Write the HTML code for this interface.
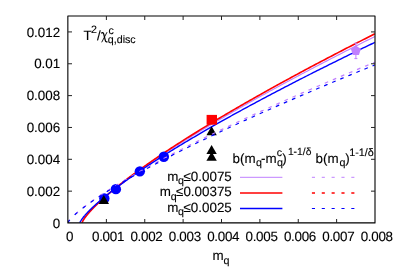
<!DOCTYPE html>
<html><head><meta charset="utf-8"><style>
html,body{margin:0;padding:0;background:#fff;}
svg{display:block;}
text{text-rendering:geometricPrecision;}
text{font-family:"Liberation Sans",sans-serif;font-size:13.4px;fill:#000;stroke:#000;stroke-width:0.12px;}
.s{font-size:10.7px;}
</style></head><body>
<svg width="399" height="279" viewBox="0 0 399 279">
<rect width="399" height="279" fill="#fff"/>
<g style="will-change:opacity;mix-blend-mode:multiply">
<defs><clipPath id="cp"><rect x="67.90" y="16.30" width="307.00" height="206.40"/></clipPath></defs>
<g clip-path="url(#cp)">
<path d="M82.10 222.70 L82.10 222.68 L82.11 222.63 L82.13 222.56 L82.15 222.48 L82.18 222.39 L82.22 222.29 L82.26 222.18 L82.31 222.06 L82.36 221.92 L82.42 221.79 L82.49 221.64 L82.57 221.48 L82.65 221.32 L82.74 221.15 L82.83 220.98 L82.93 220.79 L83.04 220.61 L83.15 220.41 L83.27 220.21 L83.40 220.00 L83.53 219.79 L83.67 219.57 L83.82 219.34 L83.97 219.11 L84.13 218.87 L84.30 218.63 L84.47 218.38 L84.65 218.13 L84.83 217.87 L85.03 217.61 L85.23 217.34 L85.43 217.07 L85.64 216.79 L85.86 216.51 L86.08 216.22 L86.32 215.93 L86.55 215.63 L86.80 215.33 L87.05 215.03 L87.30 214.72 L87.57 214.41 L87.84 214.09 L88.11 213.76 L88.40 213.44 L88.69 213.11 L88.98 212.77 L89.29 212.43 L89.59 212.09 L89.91 211.74 L90.23 211.39 L90.56 211.03 L90.90 210.67 L91.24 210.31 L91.59 209.94 L91.94 209.57 L92.30 209.20 L92.67 208.82 L93.04 208.43 L93.42 208.05 L93.81 207.66 L94.20 207.26 L94.60 206.87 L95.01 206.47 L95.42 206.06 L95.84 205.65 L96.27 205.24 L96.70 204.83 L97.14 204.41 L97.59 203.98 L98.04 203.56 L98.50 203.13 L98.96 202.70 L99.44 202.26 L99.91 201.82 L100.40 201.38 L100.89 200.93 L101.39 200.48 L101.89 200.03 L102.40 199.58 L102.92 199.12 L103.44 198.65 L103.97 198.19 L104.51 197.72 L105.05 197.25 L105.60 196.77 L106.16 196.29 L106.72 195.81 L107.29 195.33 L107.87 194.84 L108.45 194.35 L109.04 193.85 L109.64 193.36 L110.24 192.86 L110.85 192.35 L111.46 191.85 L112.08 191.34 L112.71 190.83 L113.34 190.31 L113.98 189.79 L114.63 189.27 L115.29 188.75 L115.95 188.22 L116.61 187.69 L117.29 187.16 L117.97 186.62 L118.65 186.08 L119.35 185.54 L120.05 185.00 L120.75 184.45 L121.46 183.90 L122.18 183.35 L122.91 182.79 L123.64 182.24 L124.38 181.67 L125.12 181.11 L125.88 180.54 L126.63 179.97 L127.40 179.40 L128.17 178.83 L128.95 178.25 L129.73 177.67 L130.52 177.09 L131.32 176.50 L132.12 175.91 L132.93 175.32 L133.75 174.73 L134.57 174.13 L135.40 173.53 L136.24 172.93 L137.08 172.32 L137.93 171.72 L138.79 171.11 L139.65 170.50 L140.52 169.88 L141.39 169.26 L142.27 168.64 L143.16 168.02 L144.06 167.39 L144.96 166.77 L145.86 166.14 L146.78 165.50 L147.70 164.87 L148.63 164.23 L149.56 163.59 L150.50 162.95 L151.45 162.30 L152.40 161.65 L153.36 161.00 L154.33 160.35 L155.30 159.70 L156.28 159.04 L157.26 158.38 L158.26 157.71 L159.26 157.05 L160.26 156.38 L161.27 155.71 L162.29 155.04 L163.32 154.36 L164.35 153.69 L165.38 153.01 L166.43 152.33 L167.48 151.64 L168.54 150.95 L169.60 150.26 L170.67 149.57 L171.75 148.88 L172.83 148.18 L173.92 147.48 L175.02 146.78 L176.12 146.08 L177.23 145.37 L178.35 144.67 L179.47 143.96 L180.60 143.24 L181.73 142.53 L182.87 141.81 L184.02 141.09 L185.18 140.37 L186.34 139.65 L187.51 138.92 L188.68 138.19 L189.86 137.46 L191.05 136.73 L192.24 135.99 L193.44 135.25 L194.65 134.51 L195.87 133.77 L197.09 133.03 L198.31 132.28 L199.54 131.53 L200.78 130.78 L202.03 130.03 L203.28 129.27 L204.54 128.51 L205.81 127.75 L207.08 126.99 L208.36 126.22 L209.64 125.46 L210.93 124.69 L212.23 123.92 L213.54 123.15 L214.85 122.37 L216.17 121.59 L217.49 120.81 L218.82 120.03 L220.16 119.25 L221.50 118.46 L222.85 117.67 L224.21 116.88 L225.57 116.09 L226.94 115.30 L228.32 114.50 L229.70 113.70 L231.09 112.90 L232.48 112.10 L233.89 111.29 L235.30 110.48 L236.71 109.67 L238.13 108.86 L239.56 108.05 L241.00 107.23 L242.44 106.41 L243.88 105.59 L245.34 104.77 L246.80 103.95 L248.27 103.12 L249.74 102.29 L251.22 101.46 L252.71 100.63 L254.20 99.80 L255.70 98.96 L257.21 98.12 L258.72 97.28 L260.24 96.44 L261.76 95.60 L263.30 94.75 L264.84 93.90 L266.38 93.05 L267.93 92.20 L269.49 91.34 L271.06 90.49 L272.63 89.63 L274.21 88.77 L275.79 87.91 L277.38 87.04 L278.98 86.17 L280.58 85.31 L282.19 84.43 L283.81 83.56 L285.43 82.69 L287.06 81.81 L288.70 80.93 L290.34 80.05 L291.99 79.17 L293.65 78.29 L295.31 77.40 L296.98 76.51 L298.65 75.62 L300.34 74.73 L302.03 73.84 L303.72 72.94 L305.42 72.04 L307.13 71.14 L308.84 70.24 L310.57 69.34 L312.29 68.43 L314.03 67.52 L315.77 66.61 L317.51 65.70 L319.27 64.79 L321.03 63.87 L322.79 62.96 L324.57 62.04 L326.35 61.12 L328.13 60.19 L329.93 59.27 L331.72 58.34 L333.53 57.41 L335.34 56.48 L337.16 55.55 L338.99 54.62 L340.82 53.68 L342.66 52.74 L344.50 51.80 L346.35 50.86 L348.21 49.92 L350.07 48.97 L351.94 48.03 L353.82 47.08 L355.71 46.13 L357.60 45.17 L359.49 44.22 L361.40 43.26 L363.31 42.30 L365.22 41.34 L367.14 40.38 L369.07 39.42 L371.01 38.45 L372.95 37.49 L374.90 36.52" fill="none" stroke="#c080ff" stroke-width="1.15"/>
<path d="M82.10 222.70 L82.10 222.67 L82.11 222.63 L82.13 222.56 L82.15 222.48 L82.18 222.39 L82.22 222.28 L82.26 222.17 L82.31 222.05 L82.36 221.91 L82.42 221.77 L82.49 221.62 L82.57 221.47 L82.65 221.30 L82.74 221.13 L82.83 220.95 L82.93 220.77 L83.04 220.57 L83.15 220.38 L83.27 220.17 L83.40 219.96 L83.53 219.74 L83.67 219.52 L83.82 219.29 L83.97 219.06 L84.13 218.82 L84.30 218.57 L84.47 218.32 L84.65 218.06 L84.83 217.80 L85.03 217.53 L85.23 217.26 L85.43 216.99 L85.64 216.70 L85.86 216.42 L86.08 216.13 L86.32 215.83 L86.55 215.53 L86.80 215.23 L87.05 214.92 L87.30 214.60 L87.57 214.28 L87.84 213.96 L88.11 213.63 L88.40 213.30 L88.69 212.96 L88.98 212.62 L89.29 212.28 L89.59 211.93 L89.91 211.58 L90.23 211.22 L90.56 210.86 L90.90 210.50 L91.24 210.13 L91.59 209.75 L91.94 209.38 L92.30 209.00 L92.67 208.61 L93.04 208.22 L93.42 207.83 L93.81 207.44 L94.20 207.04 L94.60 206.63 L95.01 206.23 L95.42 205.82 L95.84 205.40 L96.27 204.98 L96.70 204.56 L97.14 204.14 L97.59 203.71 L98.04 203.28 L98.50 202.84 L98.96 202.40 L99.44 201.96 L99.91 201.51 L100.40 201.07 L100.89 200.61 L101.39 200.16 L101.89 199.70 L102.40 199.23 L102.92 198.77 L103.44 198.30 L103.97 197.83 L104.51 197.35 L105.05 196.87 L105.60 196.39 L106.16 195.90 L106.72 195.42 L107.29 194.92 L107.87 194.43 L108.45 193.93 L109.04 193.43 L109.64 192.93 L110.24 192.42 L110.85 191.91 L111.46 191.39 L112.08 190.88 L112.71 190.36 L113.34 189.83 L113.98 189.31 L114.63 188.78 L115.29 188.25 L115.95 187.71 L116.61 187.18 L117.29 186.64 L117.97 186.09 L118.65 185.55 L119.35 185.00 L120.05 184.44 L120.75 183.89 L121.46 183.33 L122.18 182.77 L122.91 182.21 L123.64 181.64 L124.38 181.07 L125.12 180.50 L125.88 179.92 L126.63 179.34 L127.40 178.76 L128.17 178.18 L128.95 177.59 L129.73 177.01 L130.52 176.41 L131.32 175.82 L132.12 175.22 L132.93 174.62 L133.75 174.02 L134.57 173.41 L135.40 172.81 L136.24 172.20 L137.08 171.58 L137.93 170.97 L138.79 170.35 L139.65 169.73 L140.52 169.10 L141.39 168.48 L142.27 167.85 L143.16 167.22 L144.06 166.58 L144.96 165.94 L145.86 165.30 L146.78 164.66 L147.70 164.02 L148.63 163.37 L149.56 162.72 L150.50 162.07 L151.45 161.41 L152.40 160.76 L153.36 160.10 L154.33 159.43 L155.30 158.77 L156.28 158.10 L157.26 157.43 L158.26 156.76 L159.26 156.08 L160.26 155.41 L161.27 154.73 L162.29 154.04 L163.32 153.36 L164.35 152.67 L165.38 151.98 L166.43 151.29 L167.48 150.59 L168.54 149.90 L169.60 149.20 L170.67 148.50 L171.75 147.79 L172.83 147.09 L173.92 146.38 L175.02 145.67 L176.12 144.95 L177.23 144.24 L178.35 143.52 L179.47 142.80 L180.60 142.07 L181.73 141.35 L182.87 140.62 L184.02 139.89 L185.18 139.16 L186.34 138.42 L187.51 137.69 L188.68 136.95 L189.86 136.20 L191.05 135.46 L192.24 134.71 L193.44 133.97 L194.65 133.21 L195.87 132.46 L197.09 131.71 L198.31 130.95 L199.54 130.19 L200.78 129.43 L202.03 128.66 L203.28 127.89 L204.54 127.13 L205.81 126.35 L207.08 125.58 L208.36 124.80 L209.64 124.03 L210.93 123.25 L212.23 122.46 L213.54 121.68 L214.85 120.89 L216.17 120.10 L217.49 119.31 L218.82 118.52 L220.16 117.72 L221.50 116.93 L222.85 116.13 L224.21 115.32 L225.57 114.52 L226.94 113.71 L228.32 112.91 L229.70 112.10 L231.09 111.28 L232.48 110.47 L233.89 109.65 L235.30 108.83 L236.71 108.01 L238.13 107.19 L239.56 106.36 L241.00 105.53 L242.44 104.70 L243.88 103.87 L245.34 103.04 L246.80 102.20 L248.27 101.36 L249.74 100.52 L251.22 99.68 L252.71 98.84 L254.20 97.99 L255.70 97.14 L257.21 96.29 L258.72 95.44 L260.24 94.58 L261.76 93.73 L263.30 92.87 L264.84 92.01 L266.38 91.14 L267.93 90.28 L269.49 89.41 L271.06 88.54 L272.63 87.67 L274.21 86.80 L275.79 85.92 L277.38 85.04 L278.98 84.16 L280.58 83.28 L282.19 82.40 L283.81 81.51 L285.43 80.63 L287.06 79.74 L288.70 78.85 L290.34 77.95 L291.99 77.06 L293.65 76.16 L295.31 75.26 L296.98 74.36 L298.65 73.46 L300.34 72.55 L302.03 71.64 L303.72 70.73 L305.42 69.82 L307.13 68.91 L308.84 68.00 L310.57 67.08 L312.29 66.16 L314.03 65.24 L315.77 64.32 L317.51 63.39 L319.27 62.46 L321.03 61.54 L322.79 60.60 L324.57 59.67 L326.35 58.74 L328.13 57.80 L329.93 56.86 L331.72 55.92 L333.53 54.98 L335.34 54.04 L337.16 53.09 L338.99 52.14 L340.82 51.19 L342.66 50.24 L344.50 49.29 L346.35 48.33 L348.21 47.38 L350.07 46.42 L351.94 45.46 L353.82 44.49 L355.71 43.53 L357.60 42.56 L359.49 41.59 L361.40 40.62 L363.31 39.65 L365.22 38.67 L367.14 37.70 L369.07 36.72 L371.01 35.74 L372.95 34.76 L374.90 33.78" fill="none" stroke="#ff0000" stroke-width="1.6"/>
<path d="M79.93 222.70 L79.93 222.68 L79.94 222.63 L79.96 222.57 L79.98 222.49 L80.01 222.41 L80.05 222.31 L80.09 222.20 L80.14 222.09 L80.20 221.96 L80.26 221.83 L80.33 221.69 L80.40 221.54 L80.48 221.39 L80.57 221.23 L80.67 221.06 L80.77 220.88 L80.88 220.70 L80.99 220.51 L81.11 220.32 L81.24 220.12 L81.38 219.92 L81.52 219.70 L81.66 219.49 L81.82 219.27 L81.98 219.04 L82.15 218.81 L82.32 218.57 L82.50 218.33 L82.69 218.08 L82.88 217.83 L83.08 217.57 L83.29 217.31 L83.50 217.04 L83.72 216.77 L83.95 216.50 L84.18 216.22 L84.42 215.93 L84.66 215.64 L84.92 215.35 L85.17 215.05 L85.44 214.75 L85.71 214.44 L85.99 214.13 L86.28 213.82 L86.57 213.50 L86.87 213.18 L87.17 212.85 L87.48 212.52 L87.80 212.18 L88.12 211.85 L88.46 211.50 L88.79 211.16 L89.14 210.81 L89.49 210.45 L89.84 210.09 L90.21 209.73 L90.58 209.37 L90.96 209.00 L91.34 208.63 L91.73 208.25 L92.13 207.87 L92.53 207.49 L92.94 207.10 L93.35 206.71 L93.78 206.32 L94.21 205.92 L94.64 205.52 L95.09 205.12 L95.53 204.71 L95.99 204.30 L96.45 203.89 L96.92 203.47 L97.40 203.05 L97.88 202.62 L98.37 202.20 L98.86 201.77 L99.36 201.33 L99.87 200.90 L100.39 200.46 L100.91 200.01 L101.43 199.57 L101.97 199.12 L102.51 198.67 L103.06 198.21 L103.61 197.75 L104.17 197.29 L104.74 196.82 L105.31 196.36 L105.89 195.88 L106.48 195.41 L107.07 194.93 L107.67 194.45 L108.28 193.97 L108.89 193.48 L109.51 193.00 L110.14 192.50 L110.77 192.01 L111.41 191.51 L112.05 191.01 L112.70 190.51 L113.36 190.00 L114.03 189.49 L114.70 188.98 L115.38 188.46 L116.06 187.95 L116.76 187.43 L117.45 186.90 L118.16 186.38 L118.87 185.85 L119.59 185.32 L120.31 184.78 L121.04 184.24 L121.78 183.71 L122.52 183.16 L123.27 182.62 L124.03 182.07 L124.80 181.52 L125.57 180.97 L126.34 180.41 L127.13 179.85 L127.92 179.29 L128.71 178.72 L129.51 178.16 L130.32 177.59 L131.14 177.02 L131.96 176.44 L132.79 175.87 L133.63 175.29 L134.47 174.70 L135.32 174.12 L136.17 173.53 L137.04 172.94 L137.91 172.35 L138.78 171.75 L139.66 171.16 L140.55 170.56 L141.44 169.95 L142.35 169.35 L143.25 168.74 L144.17 168.13 L145.09 167.52 L146.02 166.90 L146.95 166.29 L147.89 165.67 L148.84 165.04 L149.79 164.42 L150.75 163.79 L151.72 163.16 L152.69 162.53 L153.67 161.89 L154.66 161.26 L155.65 160.62 L156.65 159.98 L157.66 159.33 L158.67 158.69 L159.69 158.04 L160.72 157.39 L161.75 156.73 L162.79 156.08 L163.83 155.42 L164.89 154.76 L165.94 154.09 L167.01 153.43 L168.08 152.76 L169.16 152.09 L170.24 151.42 L171.34 150.74 L172.43 150.07 L173.54 149.39 L174.65 148.71 L175.77 148.02 L176.89 147.34 L178.02 146.65 L179.16 145.96 L180.30 145.26 L181.45 144.57 L182.61 143.87 L183.77 143.17 L184.94 142.47 L186.12 141.77 L187.30 141.06 L188.49 140.35 L189.69 139.64 L190.89 138.93 L192.10 138.21 L193.32 137.50 L194.54 136.78 L195.77 136.05 L197.00 135.33 L198.25 134.60 L199.49 133.88 L200.75 133.14 L202.01 132.41 L203.28 131.68 L204.56 130.94 L205.84 130.20 L207.12 129.46 L208.42 128.72 L209.72 127.97 L211.03 127.22 L212.34 126.47 L213.66 125.72 L214.99 124.97 L216.32 124.21 L217.66 123.45 L219.01 122.69 L220.37 121.93 L221.73 121.17 L223.09 120.40 L224.47 119.63 L225.85 118.86 L227.23 118.09 L228.62 117.31 L230.02 116.54 L231.43 115.76 L232.84 114.97 L234.26 114.19 L235.69 113.41 L237.12 112.62 L238.56 111.83 L240.00 111.04 L241.46 110.24 L242.91 109.45 L244.38 108.65 L245.85 107.85 L247.33 107.05 L248.81 106.25 L250.30 105.44 L251.80 104.63 L253.31 103.82 L254.82 103.01 L256.34 102.20 L257.86 101.38 L259.39 100.57 L260.93 99.75 L262.47 98.92 L264.02 98.10 L265.58 97.28 L267.14 96.45 L268.71 95.62 L270.29 94.79 L271.87 93.95 L273.46 93.12 L275.06 92.28 L276.66 91.44 L278.27 90.60 L279.88 89.76 L281.51 88.91 L283.14 88.06 L284.77 87.22 L286.41 86.36 L288.06 85.51 L289.72 84.66 L291.38 83.80 L293.05 82.94 L294.72 82.08 L296.40 81.22 L298.09 80.35 L299.78 79.49 L301.49 78.62 L303.19 77.75 L304.91 76.88 L306.63 76.00 L308.35 75.13 L310.09 74.25 L311.83 73.37 L313.58 72.49 L315.33 71.61 L317.09 70.72 L318.86 69.83 L320.63 68.94 L322.41 68.05 L324.19 67.16 L325.99 66.27 L327.79 65.37 L329.59 64.47 L331.41 63.57 L333.22 62.67 L335.05 61.77 L336.88 60.86 L338.72 59.95 L340.57 59.04 L342.42 58.13 L344.28 57.22 L346.14 56.31 L348.01 55.39 L349.89 54.47 L351.77 53.55 L353.67 52.63 L355.56 51.70 L357.47 50.78 L359.38 49.85 L361.30 48.92 L363.22 47.99 L365.15 47.06 L367.09 46.12 L369.03 45.19 L370.98 44.25 L372.94 43.31 L374.90 42.37" fill="none" stroke="#0000ff" stroke-width="1.4"/>
</g>
<path d="M355.90 43.2 V58.6 M354.40 43.2 h3 M354.40 58.6 h3" stroke="#c080ff" stroke-width="1" fill="none"/>
<path d="M355.90 45.50 L350.95 49.09 L352.84 54.91 L358.96 54.91 L360.85 49.09z" fill="#c080ff"/>
<rect x="206.60" y="114.90" width="10.40" height="9.80" fill="#ff0000"/>
<circle cx="104.36" cy="198.54" r="5.2" fill="#0000ff"/>
<circle cx="115.87" cy="189.15" r="5.2" fill="#0000ff"/>
<circle cx="139.85" cy="171.37" r="5.2" fill="#0000ff"/>
<circle cx="163.84" cy="156.79" r="5.2" fill="#0000ff"/>
<path d="M103.80 194.90 l-5.20 9.00 h10.40 z" fill="#000"/>
<path d="M211.60 126.20 l-5.20 9.00 h10.40 z" fill="#000"/>
<path d="M211.60 145.10 l-5.20 9.00 h10.40 z" fill="#000"/>
<path d="M211.60 151.70 l-5.20 9.00 h10.40 z" fill="#000"/>
<g clip-path="url(#cp)">
<path d="M67.90 222.70 L68.21 222.00 L68.51 221.50 L68.82 221.05 L69.13 220.63 L69.44 220.23 L69.74 219.85 M75.22 214.24 L75.68 213.83 L76.14 213.42 L76.60 213.01 L77.06 212.61 L77.52 212.21 L77.98 211.82 M83.20 207.58 L83.66 207.22 L84.12 206.87 L84.58 206.51 L85.04 206.16 L85.50 205.81 L85.96 205.47 L86.12 205.35 M91.18 201.65 L91.64 201.33 L92.10 201.00 L92.56 200.68 L93.02 200.35 L93.48 200.03 L93.94 199.71 L94.20 199.53 M99.21 196.12 L99.73 195.78 L100.24 195.44 L100.75 195.10 L101.26 194.76 L101.77 194.42 L102.28 194.09 L102.34 194.05 M107.25 190.88 L107.76 190.55 L108.27 190.23 L108.78 189.91 L109.29 189.58 L109.81 189.26 L110.32 188.94 L110.37 188.91 M115.33 185.83 L115.84 185.52 L116.35 185.21 L116.87 184.90 L117.38 184.59 L117.89 184.28 L118.40 183.97 L118.45 183.94 M123.31 181.03 L123.83 180.73 L124.34 180.42 L124.85 180.12 L125.36 179.82 L125.87 179.52 L126.38 179.22 L126.54 179.13 M131.40 176.31 L131.91 176.02 L132.42 175.72 L132.93 175.43 L133.44 175.14 L133.96 174.84 L134.47 174.55 L134.62 174.46 M139.43 171.75 L139.94 171.46 L140.45 171.17 L140.97 170.89 L141.48 170.60 L141.99 170.32 L142.50 170.03 L142.65 169.95 M147.52 167.26 L148.03 166.98 L148.54 166.70 L149.05 166.42 L149.56 166.14 L150.07 165.86 L150.59 165.58 L150.74 165.50 M155.55 162.90 L156.06 162.63 L156.57 162.35 L157.08 162.08 L157.60 161.80 L158.11 161.53 L158.62 161.26 L158.77 161.18 M163.63 158.60 L164.14 158.33 L164.66 158.06 L165.17 157.79 L165.68 157.52 L166.19 157.25 L166.70 156.98 L166.91 156.88 M171.67 154.40 L172.18 154.13 L172.69 153.87 L173.20 153.60 L173.71 153.34 L174.22 153.07 L174.74 152.81 L174.99 152.68 M179.70 150.27 L180.21 150.00 L180.72 149.74 L181.23 149.48 L181.75 149.22 L182.26 148.96 L182.77 148.70 L183.03 148.57 M187.78 146.17 L188.30 145.91 L188.81 145.66 L189.32 145.40 L189.83 145.14 L190.34 144.89 L190.85 144.63 L191.11 144.50 M195.82 142.16 L196.33 141.90 L196.84 141.65 L197.35 141.40 L197.86 141.15 L198.38 140.89 L198.89 140.64 L199.14 140.51 M203.90 138.18 L204.41 137.92 L204.92 137.67 L205.44 137.42 L205.95 137.17 L206.46 136.93 L206.97 136.68 L207.23 136.55 M211.93 134.27 L212.45 134.02 L212.96 133.77 L213.47 133.53 L213.98 133.28 L214.49 133.03 L215.00 132.79 L215.26 132.66 M220.02 130.38 L220.53 130.14 L221.04 129.89 L221.55 129.65 L222.07 129.40 L222.58 129.16 L223.09 128.92 L223.34 128.79 M228.05 126.56 L228.56 126.32 L229.08 126.08 L229.59 125.84 L230.10 125.59 L230.61 125.35 L231.12 125.11 L231.38 124.99 M236.14 122.76 L236.65 122.52 L237.16 122.28 L237.67 122.04 L238.18 121.80 L238.69 121.56 L239.21 121.32 L239.46 121.20 M244.17 119.02 L244.68 118.78 L245.19 118.54 L245.70 118.31 L246.22 118.07 L246.73 117.83 L247.24 117.60 L247.50 117.48 M252.25 115.29 L252.77 115.05 L253.28 114.82 L253.79 114.59 L254.30 114.35 L254.81 114.12 L255.32 113.88 L255.58 113.77 M260.29 111.62 L260.80 111.39 L261.31 111.15 L261.82 110.92 L262.33 110.69 L262.85 110.46 L263.36 110.23 L263.61 110.11 M268.37 107.96 L268.88 107.73 L269.39 107.50 L269.91 107.27 L270.42 107.04 L270.93 106.81 L271.44 106.58 L271.70 106.46 M276.35 104.38 L276.92 104.12 L277.48 103.87 L278.04 103.62 L278.60 103.37 L279.17 103.12 L279.73 102.87 L279.78 102.85 M284.44 100.78 L285.00 100.53 L285.56 100.28 L286.13 100.03 L286.69 99.78 L287.25 99.53 L287.81 99.28 L287.87 99.26 M292.47 97.23 L293.03 96.98 L293.60 96.73 L294.16 96.48 L294.72 96.24 L295.28 95.99 L295.85 95.74 L295.90 95.72 M300.55 93.68 L301.12 93.44 L301.68 93.19 L302.24 92.94 L302.81 92.70 L303.37 92.45 L303.93 92.21 L303.98 92.19 M308.59 90.19 L309.15 89.94 L309.71 89.70 L310.28 89.45 L310.84 89.21 L311.40 88.97 L311.97 88.72 L312.02 88.70 M316.67 86.69 L317.24 86.45 L317.80 86.21 L318.36 85.96 L318.92 85.72 L319.49 85.48 L320.05 85.24 L320.10 85.22 M324.76 83.22 L325.32 82.98 L325.88 82.74 L326.45 82.50 L327.01 82.26 L327.57 82.02 L328.13 81.78 L328.18 81.76 M332.79 79.80 L333.35 79.56 L333.92 79.32 L334.48 79.08 L335.04 78.84 L335.60 78.60 L336.17 78.36 L336.22 78.34 M340.87 76.37 L341.44 76.13 L342.00 75.90 L342.56 75.66 L343.13 75.42 L343.69 75.19 L344.25 74.95 L344.30 74.93 M348.91 72.99 L349.47 72.75 L350.03 72.52 L350.60 72.28 L351.16 72.05 L351.72 71.81 L352.28 71.58 L352.34 71.55 M356.99 69.61 L357.55 69.37 L358.12 69.14 L358.68 68.90 L359.24 68.67 L359.81 68.44 L360.37 68.20 L360.42 68.18 M365.02 66.27 L365.59 66.03 L366.15 65.80 L366.71 65.57 L367.28 65.33 L367.84 65.10 L368.40 64.87 L368.45 64.85 M373.11 62.92 L373.37 62.82 L373.62 62.71 L373.88 62.61 L374.13 62.50 L374.39 62.40 L374.64 62.29 L374.90 62.19" fill="none" stroke="#c080ff" stroke-width="1.25"/>
<path d="M67.90 222.70 L68.21 222.02 L68.51 221.52 L68.82 221.08 L69.13 220.66 L69.44 220.27 L69.74 219.90 L69.79 219.83 M74.65 214.89 L75.11 214.48 L75.58 214.07 L76.04 213.66 L76.50 213.26 L76.96 212.87 L77.42 212.47 M82.58 208.31 L83.05 207.95 L83.51 207.60 L83.97 207.25 L84.43 206.90 L84.89 206.56 L85.35 206.22 L85.50 206.10 M90.62 202.41 L91.08 202.08 L91.54 201.76 L92.00 201.44 L92.46 201.12 L92.92 200.80 L93.38 200.49 L93.64 200.31 M98.60 196.97 L99.11 196.64 L99.62 196.30 L100.14 195.97 L100.65 195.63 L101.16 195.30 L101.67 194.97 L101.72 194.94 M106.68 191.77 L107.20 191.45 L107.71 191.13 L108.22 190.81 L108.73 190.49 L109.24 190.18 L109.75 189.86 L109.81 189.83 M114.72 186.83 L115.23 186.52 L115.74 186.21 L116.25 185.91 L116.76 185.60 L117.28 185.29 L117.79 184.99 L117.89 184.93 M122.75 182.06 L123.26 181.77 L123.77 181.47 L124.29 181.17 L124.80 180.87 L125.31 180.58 L125.82 180.28 L125.97 180.19 M130.78 177.45 L131.30 177.16 L131.81 176.87 L132.32 176.58 L132.83 176.29 L133.34 176.00 L133.85 175.71 L134.01 175.63 M138.87 172.92 L139.38 172.64 L139.89 172.36 L140.40 172.08 L140.91 171.79 L141.43 171.51 L141.94 171.23 L142.09 171.15 M146.90 168.53 L147.41 168.26 L147.92 167.98 L148.44 167.71 L148.95 167.43 L149.46 167.16 L149.97 166.88 L150.12 166.80 M154.99 164.21 L155.50 163.94 L156.01 163.67 L156.52 163.40 L157.03 163.13 L157.54 162.87 L158.06 162.60 L158.26 162.49 M162.97 160.03 L163.48 159.77 L163.99 159.50 L164.50 159.24 L165.01 158.97 L165.53 158.71 L166.04 158.44 L166.29 158.31 M171.05 155.87 L171.56 155.61 L172.08 155.35 L172.59 155.09 L173.10 154.83 L173.61 154.57 L174.12 154.31 L174.38 154.18 M179.09 151.80 L179.60 151.55 L180.11 151.29 L180.62 151.03 L181.13 150.78 L181.64 150.52 L182.16 150.27 L182.41 150.14 M187.17 147.77 L187.68 147.52 L188.19 147.27 L188.70 147.01 L189.22 146.76 L189.73 146.51 L190.24 146.26 L190.50 146.13 M195.20 143.83 L195.71 143.58 L196.23 143.33 L196.74 143.08 L197.25 142.83 L197.76 142.58 L198.27 142.33 L198.53 142.21 M203.29 139.91 L203.80 139.66 L204.31 139.41 L204.82 139.17 L205.33 138.92 L205.85 138.68 L206.36 138.43 L206.61 138.31 M211.32 136.06 L211.83 135.82 L212.34 135.57 L212.86 135.33 L213.37 135.09 L213.88 134.85 L214.39 134.60 L214.65 134.48 M219.40 132.24 L219.92 132.00 L220.43 131.76 L220.94 131.51 L221.45 131.27 L221.96 131.03 L222.47 130.80 L222.73 130.68 M227.44 128.48 L227.95 128.24 L228.46 128.00 L228.97 127.77 L229.48 127.53 L230.00 127.29 L230.51 127.05 L230.76 126.93 M235.52 124.74 L236.03 124.50 L236.55 124.27 L237.06 124.03 L237.57 123.80 L238.08 123.56 L238.59 123.33 L238.85 123.21 M243.61 121.03 L244.12 120.80 L244.63 120.57 L245.14 120.34 L245.65 120.10 L246.16 119.87 L246.68 119.64 L246.93 119.52 M251.64 117.39 L252.15 117.16 L252.66 116.93 L253.17 116.70 L253.69 116.47 L254.20 116.24 L254.71 116.01 L254.97 115.89 M259.67 113.78 L260.24 113.53 L260.80 113.28 L261.36 113.03 L261.92 112.77 L262.49 112.52 L263.05 112.27 L263.10 112.25 M267.71 110.20 L268.27 109.95 L268.83 109.70 L269.39 109.45 L269.96 109.21 L270.52 108.96 L271.08 108.71 L271.13 108.68 M275.79 106.63 L276.35 106.38 L276.92 106.14 L277.48 105.89 L278.04 105.64 L278.60 105.40 L279.17 105.15 L279.22 105.13 M283.82 103.11 L284.39 102.87 L284.95 102.62 L285.51 102.38 L286.07 102.13 L286.64 101.89 L287.20 101.64 L287.25 101.62 M291.91 99.60 L292.47 99.36 L293.03 99.11 L293.60 98.87 L294.16 98.63 L294.72 98.38 L295.28 98.14 L295.34 98.12 M299.94 96.14 L300.50 95.89 L301.07 95.65 L301.63 95.41 L302.19 95.17 L302.75 94.93 L303.32 94.69 L303.37 94.67 M308.03 92.68 L308.59 92.44 L309.15 92.20 L309.71 91.96 L310.28 91.72 L310.84 91.48 L311.40 91.24 L311.45 91.22 M316.06 89.26 L316.62 89.02 L317.18 88.78 L317.75 88.55 L318.31 88.31 L318.87 88.07 L319.44 87.83 L319.49 87.81 M324.14 85.85 L324.71 85.61 L325.27 85.38 L325.83 85.14 L326.39 84.90 L326.96 84.67 L327.52 84.43 L327.57 84.41 M332.18 82.48 L332.74 82.25 L333.30 82.01 L333.86 81.78 L334.43 81.54 L334.99 81.31 L335.55 81.07 L335.60 81.05 M340.26 79.11 L340.82 78.88 L341.39 78.65 L341.95 78.41 L342.51 78.18 L343.07 77.95 L343.64 77.71 L343.69 77.69 M348.29 75.79 L348.86 75.55 L349.42 75.32 L349.98 75.09 L350.54 74.86 L351.11 74.63 L351.67 74.39 L351.72 74.37 M356.38 72.46 L356.94 72.23 L357.50 72.00 L358.07 71.77 L358.63 71.54 L359.19 71.31 L359.75 71.08 L359.81 71.06 M364.41 69.17 L364.97 68.95 L365.54 68.72 L366.10 68.49 L366.66 68.26 L367.23 68.03 L367.79 67.80 L367.84 67.78 M372.50 65.89 L372.85 65.74 L373.21 65.60 L373.57 65.45 L373.93 65.31 L374.29 65.16 L374.64 65.02 L374.90 64.91" fill="none" stroke="#0000ff" stroke-width="1.2"/>
</g>
<g stroke="#000" stroke-width="1.1" fill="none" stroke-linejoin="round">
<rect x="67.85" y="16.05" width="307.15" height="206.85"/>
</g>
<g stroke="#222" stroke-width="1" fill="none">
<path d="M106.38 223.00 v-4 M106.38 16.00 v4"/>
<path d="M144.75 223.00 v-4 M144.75 16.00 v4"/>
<path d="M183.12 223.00 v-4 M183.12 16.00 v4"/>
<path d="M221.50 223.00 v-4 M221.50 16.00 v4"/>
<path d="M259.88 223.00 v-4 M259.88 16.00 v4"/>
<path d="M298.25 223.00 v-4 M298.25 16.00 v4"/>
<path d="M336.62 223.00 v-4 M336.62 16.00 v4"/>
<path d="M68.00 191.15 h4 M375.00 191.15 h-4"/>
<path d="M68.00 159.31 h4 M375.00 159.31 h-4"/>
<path d="M68.00 127.46 h4 M375.00 127.46 h-4"/>
<path d="M68.00 95.62 h4 M375.00 95.62 h-4"/>
<path d="M68.00 63.77 h4 M375.00 63.77 h-4"/>
<path d="M68.00 31.92 h4 M375.00 31.92 h-4"/>
</g>
<text x="69.70" y="241" text-anchor="middle" style="letter-spacing:-0.28px">0</text>
<text x="108.08" y="241" text-anchor="middle" style="letter-spacing:-0.28px">0.001</text>
<text x="146.45" y="241" text-anchor="middle" style="letter-spacing:-0.28px">0.002</text>
<text x="184.82" y="241" text-anchor="middle" style="letter-spacing:-0.28px">0.003</text>
<text x="223.20" y="241" text-anchor="middle" style="letter-spacing:-0.28px">0.004</text>
<text x="261.57" y="241" text-anchor="middle" style="letter-spacing:-0.28px">0.005</text>
<text x="299.95" y="241" text-anchor="middle" style="letter-spacing:-0.28px">0.006</text>
<text x="338.32" y="241" text-anchor="middle" style="letter-spacing:-0.28px">0.007</text>
<text x="376.70" y="241" text-anchor="middle" style="letter-spacing:-0.28px">0.008</text>
<text x="60.2" y="227.70" text-anchor="end">0</text>
<text x="60.2" y="195.85" text-anchor="end">0.002</text>
<text x="60.2" y="164.01" text-anchor="end">0.004</text>
<text x="60.2" y="132.16" text-anchor="end">0.006</text>
<text x="60.2" y="100.32" text-anchor="end">0.008</text>
<text x="60.2" y="68.47" text-anchor="end">0.01</text>
<text x="60.2" y="36.62" text-anchor="end">0.012</text>
<!-- title -->
<text x="83.5" y="39.5">T</text><text class="s" x="91" y="33.2">2</text><text x="97" y="39.5">/</text><path d="M101.3 33.4 C102.2 32.2 103.3 32.4 103.7 33.9 L105.3 40.4 C105.7 41.9 106.6 42.3 107.4 41.5" fill="none" stroke="#000" stroke-width="1.25"/><path d="M107 32.2 L101.7 42.3" fill="none" stroke="#000" stroke-width="0.9"/>
<text class="s" x="108.5" y="33.8">c</text><text class="s" x="107.8" y="42.7" style="font-size:10.7px">q,disc</text>
<!-- xlabel -->
<text x="212.5" y="259.6">m</text><text class="s" x="223.6" y="263.8">q</text>
<!-- legend headers -->
<text x="232.6" y="162.5">b(m</text><text class="s" x="255.9" y="166.3">q</text><text x="261" y="162.5">-m</text><text class="s" x="276.9" y="166.3">q</text><text class="s" x="276.7" y="156.3">c</text><text x="282.2" y="162.5">)</text><text class="s" x="287.9" y="155.2" style="font-size:10.3px">1-1/δ</text>
<text x="315.6" y="162.5">b(m</text><text class="s" x="339.4" y="166.3">q</text><text x="345.3" y="162.5">)</text><text class="s" x="349.2" y="155.6" style="font-size:10.8px">1-1/δ</text>
<!-- legend rows -->
<g>
<text x="231.8" y="180.6" text-anchor="end">≤0.0075</text><text class="s" x="184.07" y="184.4" text-anchor="end">q</text><text x="178.42" y="180.6" text-anchor="end">m</text>
<text x="231.8" y="196.1" text-anchor="end">≤0.00375</text><text class="s" x="176.62" y="199.9" text-anchor="end">q</text><text x="170.97" y="196.1" text-anchor="end">m</text>
<text x="231.8" y="211.6" text-anchor="end">≤0.0025</text><text class="s" x="184.07" y="215.4" text-anchor="end">q</text><text x="178.42" y="211.6" text-anchor="end">m</text>
</g>
<g fill="none">
<path d="M240 177.3 H282.4" stroke="#c080ff" stroke-width="1"/>
<path d="M240 193 H282.4" stroke="#ff0000" stroke-width="1.5"/>
<path d="M240 208.5 H282.4" stroke="#0000ff" stroke-width="1.4"/>
<path d="M311.9 177.3 H354.4" stroke="#c080ff" stroke-width="1" stroke-dasharray="3.1 6.75"/>
<path d="M311.9 193 H354.4" stroke="#ff0000" stroke-width="1.5" stroke-dasharray="3.1 6.75"/>
<path d="M311.9 208.5 H354.4" stroke="#0000ff" stroke-width="1.2" stroke-dasharray="3.1 6.75"/>
</g>
</g>
</svg></body></html>
